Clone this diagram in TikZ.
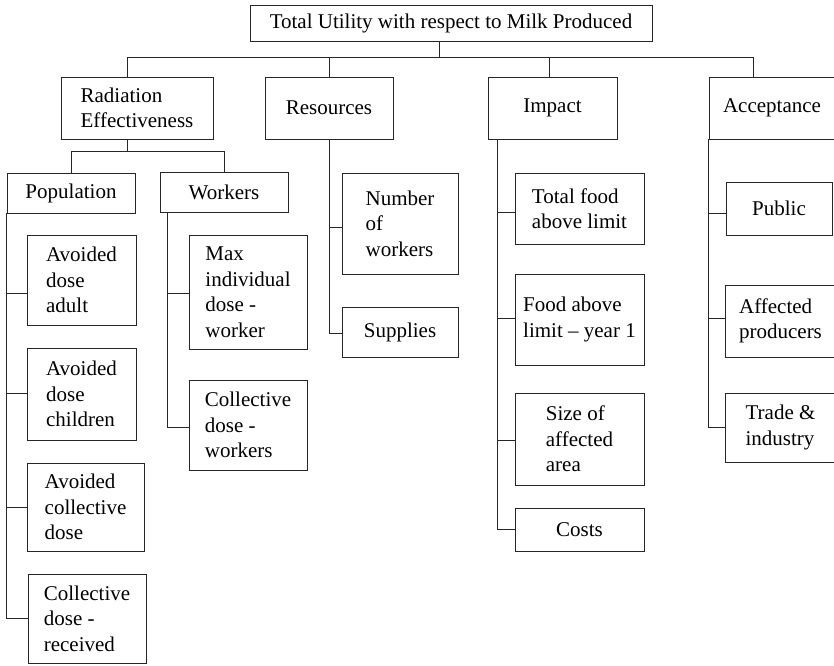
\documentclass[tikz,border=0pt]{standalone}
\usepackage{fontspec}
\setmainfont{Liberation Serif}
\begin{document}
\begin{tikzpicture}[x=1pt,y=-1pt,
  box/.style={draw=black!85, line width=0.95pt, inner sep=0pt, align=left,
    font=\fontsize{21}{25.5}\selectfont},
  link/.style={draw=black!85, line width=0.95pt}]
\useasboundingbox (0,0) rectangle (834,665);
\clip (0,0) rectangle (834,665);
% level 0 and 1
\node[box, minimum width=402, minimum height=36] (top) at (451,23) {Total Utility with respect to Milk Produced};
\node[box, minimum width=152, minimum height=62] (rad) at (137,108) {Radiation\\Effectiveness};
\node[box, minimum width=128, minimum height=62] (res) at (329,108) {Resources};
\node[box, minimum width=129, minimum height=62] (imp) at (552.5,108) {Impact};
\node[box, minimum width=126, minimum height=62] (acc) at (772,108) {Acceptance};
% radiation effectiveness
\node[box, minimum width=128, minimum height=40] (pop) at (71,193) {Population};
\node[box, minimum width=128, minimum height=40] (wrk) at (224,192) {Workers};
\node[box, minimum width=109, minimum height=90] (adult) at (81.5,280) {Avoided\\dose\\adult};
\node[box, minimum width=109, minimum height=92] (child) at (81.5,394) {Avoided\\dose\\children};
\node[box, minimum width=117, minimum height=88] (avcol) at (85.5,507) {Avoided\\collective\\dose};
\node[box, minimum width=118, minimum height=89] (colrec) at (87,618.5) {Collective\\dose -\\received};
\node[box, minimum width=118, minimum height=114] (maxind) at (248,292) {Max\\individual\\dose -\\worker};
\node[box, minimum width=118, minimum height=90] (colwrk) at (248,425) {Collective\\dose -\\workers};
% resources
\node[box, minimum width=116, minimum height=101] (numw) at (400,223.5) {Number\\of\\workers};
\node[box, minimum width=116, minimum height=50] (sup) at (400,332) {Supplies};
% impact
\node[box, minimum width=129, minimum height=71] (total) at (579.5,208.5) {Total food\\above limit};
\node[box, minimum width=129, minimum height=91] (fy1) at (579.5,319.5) {Food above\\limit -- year 1};
\node[box, minimum width=129, minimum height=92] (size) at (579.5,439) {Size of\\affected\\area};
\node[box, minimum width=129, minimum height=43] (costs) at (579.5,529.5) {Costs};
% acceptance
\node[box, minimum width=106, minimum height=53] (public) at (779,208.5) {Public};
\node[box, minimum width=111, minimum height=72] (affp) at (780.5,321) {Affected\\producers};
\node[box, minimum width=111, minimum height=69] (trade) at (780.5,427.5) {Trade \&\\industry};
% connectors level 0-1
\coordinate (bus) at (0,57);
\draw[link] (top.south -| 439,0) -- (439,57);
\draw[link] (rad.north -| 127,0) |- (753,57) -- (acc.north -| 753,0);
\draw[link] (res.north) -- (res.north |- bus);
\draw[link] (imp.north -| 549,0) -- (549,57);
% radiation effectiveness
\draw[link] (rad.south -| 127,0) -- (127,151);
\draw[link] (pop.north) |- (wrk.north |- 0,151) -- (wrk.north);
\draw[link] (pop.south west) |- (colrec.west |- 0,618);
\draw[link] (pop.south west |- 0,293) -- (adult.west |- 0,293);
\draw[link] (pop.south west |- 0,393) -- (child.west |- 0,393);
\draw[link] (pop.south west |- 0,507) -- (avcol.west |- 0,507);
\draw[link] (wrk.south -| 167,0) |- (colwrk.west |- 0,427);
\draw[link] (167,293) -- (maxind.west |- 0,293);
% resources
\draw[link] (res.south) |- (sup.west |- 0,333);
\draw[link] (res.south |- 0,227) -- (numw.west |- 0,227);
% impact
\draw[link] (imp.south -| 497,0) |- (costs.west |- 0,529);
\draw[link] (497,212) -- (total.west |- 0,212);
\draw[link] (497,318) -- (fy1.west |- 0,318);
\draw[link] (497,440) -- (size.west |- 0,440);
% acceptance
\draw[link] (acc.south west) |- (trade.west |- 0,427);
\draw[link] (acc.south west |- 0,213) -- (public.west |- 0,213);
\draw[link] (acc.south west |- 0,318) -- (affp.west |- 0,318);
\end{tikzpicture}
\end{document}
